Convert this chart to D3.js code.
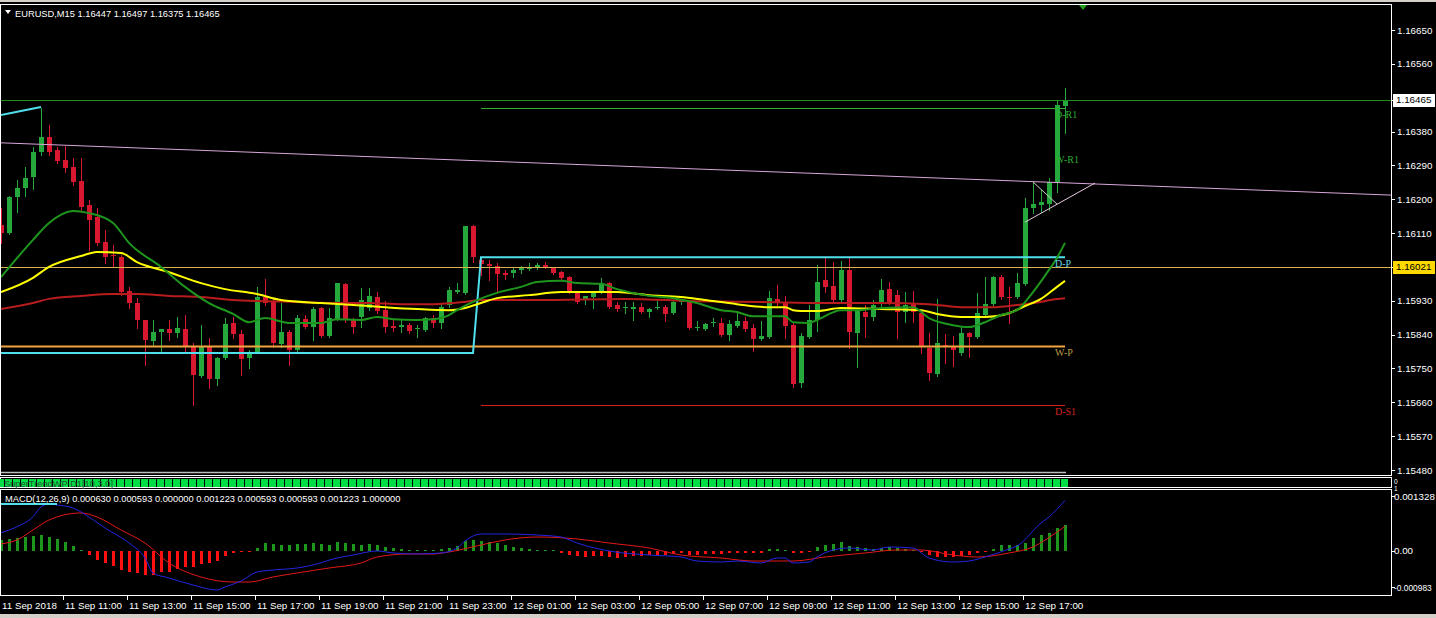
<!DOCTYPE html>
<html>
<head>
<meta charset="utf-8">
<title>EURUSD,M15</title>
<style>
  body, html { margin: 0; padding: 0; background: #000; overflow: hidden; }
  svg { display: block; }
  text { font-family: "Liberation Sans", Arial, sans-serif; font-size: 9.3px; fill: #fff; }
  .ax { font-size: 9.8px; }
  .lvl { font-family: "Liberation Serif", "DejaVu Serif", serif; font-size: 10px; }
</style>
</head>
<body>
<svg id="svg" width="1436" height="618"></svg>
<script src="https://d3js.org/d3.v7.min.js"></script>
<script>
// ---- candles, 11 Sep 09:00 .. 12 Sep 18:15 (M15) ----
const opens = [1.16131,1.16110,1.16206,1.16230,1.16259,1.16326,1.16366,1.16331,1.16304,1.16286,
  1.16249,1.16185,1.16153,1.16086,1.16052,1.16046,1.15956,1.15924,1.15879,1.15823,
  1.15847,1.15855,1.15844,1.15855,1.15807,1.15730,1.15807,1.15722,1.15778,1.15871,
  1.15842,1.15778,1.15794,1.15940,1.15929,1.15815,1.15847,1.15799,1.15881,1.15860,
  1.15911,1.15836,1.15881,1.15975,1.15879,1.15887,1.15911,1.15940,1.15905,1.15863,
  1.15860,1.15865,1.15855,1.15852,1.15884,1.15871,1.15919,1.15953,1.15951,1.16129,
  1.16038,1.16028,1.16022,1.16004,1.16004,1.16012,1.16014,1.16017,1.16025,1.16017,
  1.16006,1.15993,1.15951,1.15935,1.15940,1.15953,1.15977,1.15919,1.15911,1.15908,
  1.15913,1.15900,1.15911,1.15913,1.15897,1.15927,1.15927,1.15858,1.15855,1.15871,
  1.15871,1.15839,1.15863,1.15876,1.15858,1.15828,1.15834,1.15935,1.15927,1.15865,
  1.15711,1.15834,1.15879,1.15985,1.15969,1.15932,1.16012,1.15844,1.15900,1.15887,
  1.15924,1.15961,1.15945,1.15900,1.15921,1.15897,1.15804,1.15735,1.15812,1.15810,
  1.15791,1.15844,1.15834,1.15892,1.15921,1.15993,1.15940,1.15940,1.15975,1.16177,
  1.16185,1.16187,1.16246,1.16447];
const highs = [1.16177,1.16209,1.16251,1.16286,1.16339,1.16443,1.16397,1.16339,1.16342,1.16310,
  1.16310,1.16198,1.16177,1.16118,1.16078,1.16052,1.15967,1.15937,1.15879,1.15879,
  1.15855,1.15879,1.15887,1.15892,1.15818,1.15865,1.15831,1.15780,1.15884,1.15887,
  1.15852,1.15799,1.15967,1.15988,1.15937,1.15924,1.15852,1.15892,1.15892,1.15913,
  1.15913,1.15911,1.15977,1.15977,1.15884,1.15964,1.15964,1.15953,1.15929,1.15879,
  1.15879,1.15871,1.15865,1.15887,1.15892,1.15924,1.15967,1.15977,1.16129,1.16131,
  1.16044,1.16038,1.16030,1.16012,1.16020,1.16022,1.16030,1.16030,1.16033,1.16020,
  1.16009,1.15996,1.15953,1.15943,1.15953,1.15991,1.15980,1.15927,1.15927,1.15927,
  1.15924,1.15911,1.15929,1.15919,1.15929,1.15935,1.15932,1.15876,1.15871,1.15884,
  1.15884,1.15879,1.15903,1.15887,1.15868,1.15876,1.15956,1.15972,1.15943,1.15871,
  1.15844,1.15919,1.16025,1.16044,1.16033,1.16036,1.16046,1.15911,1.15919,1.15932,
  1.15988,1.15980,1.15959,1.15953,1.15956,1.15905,1.15844,1.15935,1.15842,1.15836,
  1.15860,1.15847,1.15951,1.15993,1.15996,1.15998,1.15967,1.16004,1.16203,1.16243,
  1.16225,1.16257,1.16464,1.16497];
const lows = [1.16084,1.16108,1.16166,1.16209,1.16227,1.16318,1.16318,1.16296,1.16272,1.16238,
  1.16171,1.16065,1.16078,1.16030,1.16020,1.15945,1.15911,1.15858,1.15759,1.15812,
  1.15791,1.15826,1.15834,1.15791,1.15653,1.15727,1.15698,1.15706,1.15775,1.15831,
  1.15732,1.15751,1.15791,1.15919,1.15807,1.15807,1.15759,1.15794,1.15858,1.15826,
  1.15834,1.15834,1.15879,1.15873,1.15844,1.15860,1.15905,1.15897,1.15847,1.15850,
  1.15847,1.15844,1.15834,1.15850,1.15860,1.15858,1.15913,1.15951,1.15948,1.16033,
  1.15998,1.15985,1.15953,1.15988,1.15993,1.16004,1.16012,1.16014,1.16017,1.16001,
  1.15988,1.15951,1.15924,1.15921,1.15911,1.15951,1.15911,1.15903,1.15897,1.15879,
  1.15897,1.15887,1.15908,1.15876,1.15895,1.15921,1.15855,1.15852,1.15852,1.15863,
  1.15836,1.15826,1.15860,1.15850,1.15796,1.15826,1.15831,1.15919,1.15831,1.15701,
  1.15701,1.15831,1.15850,1.15953,1.15929,1.15929,1.15804,1.15754,1.15834,1.15879,
  1.15913,1.15921,1.15831,1.15873,1.15873,1.15791,1.15719,1.15730,1.15764,1.15756,
  1.15786,1.15780,1.15831,1.15889,1.15919,1.15935,1.15871,1.15937,1.15972,1.16163,
  1.16166,1.16171,1.16219,1.16375];
const closes = [1.16110,1.16206,1.16230,1.16257,1.16326,1.16366,1.16326,1.16302,1.16283,1.16246,
  1.16179,1.16145,1.16084,1.16046,1.16049,1.15953,1.15924,1.15879,1.15826,1.15847,
  1.15855,1.15844,1.15858,1.15807,1.15732,1.15807,1.15722,1.15778,1.15868,1.15842,
  1.15775,1.15794,1.15940,1.15924,1.15818,1.15847,1.15799,1.15884,1.15860,1.15908,
  1.15836,1.15884,1.15977,1.15879,1.15860,1.15932,1.15943,1.15903,1.15860,1.15858,
  1.15865,1.15850,1.15858,1.15884,1.15871,1.15913,1.15959,1.15959,1.16129,1.16046,
  1.16028,1.16022,1.16001,1.15998,1.16012,1.16017,1.16017,1.16025,1.16020,1.16004,
  1.15991,1.15956,1.15927,1.15943,1.15951,1.15975,1.15913,1.15908,1.15913,1.15913,
  1.15900,1.15908,1.15913,1.15895,1.15927,1.15929,1.15858,1.15860,1.15868,1.15873,
  1.15839,1.15868,1.15876,1.15855,1.15828,1.15836,1.15937,1.15924,1.15863,1.15709,
  1.15836,1.15879,1.15980,1.15967,1.15932,1.16012,1.15847,1.15905,1.15887,1.15919,
  1.15959,1.15924,1.15900,1.15919,1.15900,1.15807,1.15738,1.15818,1.15810,1.15799,
  1.15844,1.15834,1.15897,1.15921,1.15993,1.15940,1.15937,1.15977,1.16177,1.16187,
  1.16193,1.16246,1.16451,1.16465];

// ---- moving averages: [bar, price] ----
const maGreen = [[0,1.15993],[4,1.16092],[6,1.16137],[9,1.16169],[11,1.16163],[14,1.16137],[16,1.16084],
  [20,1.16020],[23,1.15967],[26,1.15924],[29,1.15895],[31,1.15873],[33,1.15884],[36,1.15871],[40,1.15871],
  [42,1.15881],[45,1.15879],[47,1.15887],[49,1.15881],[52,1.15879],[54,1.15881],[56,1.15892],[57,1.15905],
  [59,1.15927],[62,1.15951],[65,1.15967],[67,1.15980],[70,1.15983],[72,1.15977],[75,1.15975],[77,1.15961],
  [81,1.15943],[84,1.15937],[87,1.15924],[90,1.15905],[92,1.15900],[94,1.15889],[98,1.15889],[99,1.15873],
  [101,1.15871],[102,1.15879],[105,1.15905],[107,1.15905],[110,1.15911],[114,1.15913],[116,1.15884],
  [119,1.15865],[121,1.15860],[123,1.15873],[125,1.15892],[127,1.15905],[129,1.15953],[131,1.16012],
  [132,1.16044],[133,1.16084]];
const maYellow = [[0,1.15953],[4,1.15991],[6,1.16020],[10,1.16049],[12,1.16060],[15,1.16057],[17,1.16033],
  [21,1.16006],[25,1.15977],[28,1.15961],[32,1.15948],[35,1.15932],[40,1.15924],[44,1.15919],[48,1.15913],
  [52,1.15908],[56,1.15905],[58,1.15911],[60,1.15924],[62,1.15937],[66,1.15945],[70,1.15953],[74,1.15953],
  [77,1.15953],[81,1.15945],[85,1.15940],[88,1.15932],[92,1.15921],[96,1.15913],[98,1.15913],[99,1.15905],
  [100,1.15903],[102,1.15903],[105,1.15911],[110,1.15908],[115,1.15905],[117,1.15895],[120,1.15887],
  [123,1.15887],[126,1.15897],[128,1.15916],[130,1.15935],[132,1.15967],[133,1.15983]];
const maRed = [[0,1.15908],[4,1.15924],[6,1.15935],[10,1.15943],[14,1.15948],[17,1.15948],[21,1.15943],
  [25,1.15940],[29,1.15932],[33,1.15929],[37,1.15927],[42,1.15924],[46,1.15924],[50,1.15921],[54,1.15921],
  [58,1.15927],[60,1.15932],[67,1.15932],[78,1.15935],[87,1.15929],[95,1.15927],[103,1.15924],[110,1.15924],
  [116,1.15921],[120,1.15913],[124,1.15913],[127,1.15919],[130,1.15927],[132,1.15935],[133,1.15937]];

// ---- pivot / objects ----
const pivotLine = [[0,1.15791],[59,1.15791],[60,1.16046],[133,1.16046]];
const cyanSegment = [[0,1.16424],[5,1.16445]];
const pivotLevels = [
  { name: 'D-R1', price: 1.16443, from: 60, line: true,  color: '#2fae2f' },
  { name: 'W-R1', price: 1.16323, from: 60, line: false, color: '#2fae2f' },
  { name: 'D-P',  price: 1.16046, from: 60, line: false, color: '#5fd8e6' },
  { name: 'W-P',  price: 1.15810, from: 0,  line: true,  color: '#b79a45' },
  { name: 'D-S1', price: 1.15653, from: 60, line: true,  color: '#d42020' }
];
const lineColors = { 'W-P': '#f0a640' };
const trendLines = [
  { p: [[0,1.16350],[173.75,1.16211]], color: '#d9a6d9' },
  { p: [[128,1.16139],[136.75,1.16243]], color: '#e8c8e0' },
  { p: [[129,1.16246],[132,1.16187]], color: '#d0d0d0' }
];
const bidPrice = 1.16465;
const markedPrice = 1.16021;
const lowerGuide = 1.15475;
const header = 'EURUSD,M15  1.16447 1.16497 1.16375 1.16465';

// ---- axes ----
const priceTicks = [1.16650,1.16560,1.16470,1.16380,1.16290,1.16200,1.16110,1.16020,1.15930,1.15840,1.15750,1.15660,1.15570,1.15480];
const timeLabels = ['11 Sep 2018','11 Sep 11:00','11 Sep 13:00','11 Sep 15:00','11 Sep 17:00','11 Sep 19:00','11 Sep 21:00',
  '11 Sep 23:00','12 Sep 01:00','12 Sep 03:00','12 Sep 05:00','12 Sep 07:00','12 Sep 09:00','12 Sep 11:00',
  '12 Sep 13:00','12 Sep 15:00','12 Sep 17:00'];
const timeLabelBars = [0,8,16,24,32,40,48,56,64,72,80,88,96,104,112,120,128];

// ---- SuperTrendWP D1 state per bar (1 = up) ----
const superTrend = [1,1,1,1,1,1,1,1,1,1,1,1,1,1,1,1,1,1,1,1,1,1,1,1,1,1,1,1,1,1,1,1,1,1,1,1,1,1,1,1,1,1,1,1,1,
  1,1,1,1,1,1,1,1,1,1,1,1,1,1,1,1,1,1,1,1,1,1,1,1,1,1,1,1,1,1,1,1,1,1,1,1,1,1,1,1,1,1,1,1,1,
  1,1,1,1,1,1,1,1,1,1,1,1,1,1,1,1,1,1,1,1,1,1,1,1,1,1,1,1,1,1,1,1,1,1,1,1,1,1,1,1,1,1,1,1];

// ---- MACD(12,26,9) ----
const macdHist = [0.000266,0.000283,0.000321,0.000345,0.000370,0.000386,0.000345,0.000290,0.000225,0.000121,
  0.000024,-0.000104,-0.000217,-0.000283,-0.000362,-0.000459,-0.000514,-0.000539,-0.000580,-0.000580,
  -0.000514,-0.000500,-0.000442,-0.000394,-0.000394,-0.000314,-0.000297,-0.000234,-0.000121,-0.000041,
  -0.000024,-0.000017,0.000065,0.000200,0.000169,0.000145,0.000138,0.000162,0.000169,0.000186,
  0.000162,0.000145,0.000210,0.000200,0.000169,0.000145,0.000169,0.000145,0.000104,0.000080,
  0.000041,0.000024,0.000024,0.000024,0.000031,0.000056,0.000080,0.000121,0.000249,0.000266,
  0.000242,0.000225,0.000186,0.000145,0.000089,0.000072,0.000041,0.000031,0.000024,0.000012,
  -0.000041,-0.000097,-0.000121,-0.000138,-0.000121,-0.000121,-0.000138,-0.000162,-0.000138,-0.000121,
  -0.000114,-0.000104,-0.000104,-0.000097,-0.000072,-0.000056,-0.000097,-0.000097,-0.000080,-0.000080,
  -0.000065,-0.000056,-0.000056,-0.000041,-0.000056,-0.000056,0.000041,0.000048,0.000031,-0.000056,
  -0.000056,-0.000024,0.000089,0.000138,0.000169,0.000217,0.000121,0.000089,0.000065,0.000041,
  0.000072,0.000089,0.000065,0.000041,0.000024,-0.000031,-0.000097,-0.000138,-0.000152,-0.000152,
  -0.000121,-0.000104,-0.000056,-0.000024,0.000041,0.000145,0.000145,0.000145,0.000186,0.000321,
  0.000386,0.000427,0.000548,0.000630];
const macdMain = [[0,0.000442],[2,0.000587],[4,0.000828],[5,0.001063],[6,0.001135],[7,0.001111],[9,0.001038],
  [11,0.000821],[13,0.000555],[16,0.000193],[18,-0.000169],[19,-0.000531],[21,-0.000652],[24,-0.000821],
  [27,-0.000942],[28,-0.000869],[30,-0.000725],[32,-0.000507],[34,-0.000459],[37,-0.000411],[39,-0.000338],
  [42,-0.000169],[44,-0.000097],[47,0],[49,-0.000048],[52,-0.000072],[55,-0.000048],[57,0.000072],
  [58,0.000242],[60,0.000411],[63,0.000411],[67,0.000386],[70,0.000338],[72,0.000193],[76,0],
  [81,-0.000097],[85,-0.000145],[87,-0.000242],[90,-0.000266],[92,-0.000242],[95,-0.000290],[97,-0.000169],
  [98,-0.000169],[99,-0.000290],[101,-0.000266],[102,-0.000145],[104,0.000024],[106,0.000072],[109,0.000024],
  [111,0.000097],[114,0.000072],[116,-0.000169],[119,-0.000266],[121,-0.000242],[123,-0.000145],
  [126,0.000048],[127,0.000121],[130,0.000676],[131,0.000821],[133,0.001223]];
const macdSignal = [[0,0.000170],[2,0.000266],[4,0.000507],[6,0.000749],[10,0.000918],[12,0.000821],
  [15,0.000507],[18,0.000193],[21,-0.000290],[25,-0.000628],[29,-0.000749],[31,-0.000749],[34,-0.000628],
  [37,-0.000531],[41,-0.000411],[45,-0.000290],[47,-0.000145],[51,-0.000072],[54,-0.000072],[56,-0.000024],
  [60,0.000145],[63,0.000266],[67,0.000338],[72,0.000290],[76,0.000193],[81,0.000072],[85,-0.000097],
  [90,-0.000169],[94,-0.000242],[99,-0.000242],[103,-0.000145],[108,-0.000048],[112,0.000024],[115,0.000024],
  [119,-0.000097],[122,-0.000145],[126,-0.000048],[129,0.000097],[132,0.000459],[133,0.000593]];
const macdTitle = 'MACD(12,26,9) 0.000630 0.000593 0.000000 0.001223 0.000593 0.000593 0.001223 1.000000';
const macdTicks = [0.001328, 0, -0.000983];

// ---- layout ----
const svg = d3.select('#svg');
const panelRight = 1391;
const x = d3.scaleLinear().domain([0, 133]).range([1, 1065]);
const y = d3.scaleLinear().domain([1.15480, 1.16650]).range([470, 30]);
const ym = d3.scaleLinear().domain([-0.000983, 0.001328]).range([591.7, 496]);

svg.append('rect').attr('width', 1436).attr('height', 618).attr('fill', '#000');
svg.append('rect').attr('x', 0).attr('y', 614).attr('width', 1436).attr('height', 4).attr('fill', '#d4d0c8');
svg.append('rect').attr('x', 0).attr('y', 0).attr('width', 1436).attr('height', 2).attr('fill', '#d4d0c8');

const defs = svg.append('defs');
defs.append('clipPath').attr('id', 'clipMain').append('rect')
  .attr('x', 1).attr('y', 5).attr('width', panelRight - 1).attr('height', 470);
defs.append('clipPath').attr('id', 'clipMacd').append('rect')
  .attr('x', 1).attr('y', 490).attr('width', panelRight - 1).attr('height', 105);

const main = svg.append('g').attr('clip-path', 'url(#clipMain)');
const px = i => Math.round(x(i));
const py = v => Math.round(y(v));

// candles
const candles = opens.map((o, i) => ({ i, o, h: highs[i], l: lows[i], c: closes[i] }));
const up = d => d.c >= d.o;
const gC = main.append('g');
gC.selectAll('line').data(candles).join('line')
  .attr('x1', d => px(d.i) + 0.5).attr('x2', d => px(d.i) + 0.5)
  .attr('y1', d => py(d.h)).attr('y2', d => py(d.l) + 1)
  .attr('stroke', d => up(d) ? '#25a83c' : '#d8182f').attr('stroke-width', 1);
gC.selectAll('rect').data(candles).join('rect')
  .attr('x', d => px(d.i) - 2).attr('width', 5)
  .attr('y', d => py(Math.max(d.o, d.c)))
  .attr('height', d => Math.max(1, py(Math.min(d.o, d.c)) - py(Math.max(d.o, d.c))))
  .attr('fill', d => up(d) ? '#25a83c' : '#d8182f');

// horizontal objects
const hline = (price, x0, x1, color, w) => main.append('line')
  .attr('x1', x0).attr('x2', x1).attr('y1', py(price) + 0.5).attr('y2', py(price) + 0.5)
  .attr('stroke', color).attr('stroke-width', w);

trendLines.forEach(t => {
  main.append('line')
    .attr('x1', x(t.p[0][0])).attr('y1', y(t.p[0][1]))
    .attr('x2', x(t.p[1][0])).attr('y2', y(t.p[1][1]))
    .attr('stroke', t.color).attr('stroke-width', 1);
});
hline(bidPrice, 0, panelRight, '#1f8f1f', 1);
hline(markedPrice, 0, panelRight, '#d8b44c', 1);
hline(lowerGuide, 0, x(133) + 1, '#bdbdbd', 1.5);
pivotLevels.filter(l => l.line).forEach(l => {
  hline(l.price, x(l.from), x(133), lineColors[l.name] || l.color, l.name === 'W-P' ? 2 : 1);
});

// pivot line (cyan)
const lineGen = sc => d3.line().x(d => x(d[0])).y(d => sc(d[1]));
main.append('path').attr('d', lineGen(y)(pivotLine))
  .attr('fill', 'none').attr('stroke', '#4fe0ee').attr('stroke-width', 2);
main.append('path').attr('d', lineGen(y)(cyanSegment))
  .attr('fill', 'none').attr('stroke', '#4fe0ee').attr('stroke-width', 2);

// moving averages
const maGen = d3.line().x(d => x(d[0])).y(d => y(d[1])).curve(d3.curveMonotoneX);
[[maRed, '#b81c1c'], [maYellow, '#ffff00'], [maGreen, '#1e961e']].forEach(([data, color]) => {
  main.append('path').attr('d', maGen(data))
    .attr('fill', 'none').attr('stroke', color).attr('stroke-width', 2);
});

// pivot labels
main.selectAll('text.lvl').data(pivotLevels).join('text')
  .attr('class', 'lvl')
  .attr('x', x(133) - 10).attr('y', d => y(d.price) + 10)
  .style('fill', d => d.color)
  .text(d => d.name);

// shift marker
svg.append('path')
  .attr('d', d3.line()([[x(135.25) - 4, 5], [x(135.25) + 4, 5], [x(135.25), 10]]))
  .attr('fill', '#1ea01e');

// header
svg.append('path').attr('d', d3.line()([[5, 10], [11, 10], [8, 14]])).attr('fill', '#fff');
svg.append('text').attr('x', 15).attr('y', 16.5).text(header);

// panel borders
const border = (y0, y1) => svg.append('rect')
  .attr('x', 0.5).attr('y', y0 + 0.5).attr('width', panelRight).attr('height', y1 - y0)
  .attr('fill', 'none').attr('stroke', '#fff').attr('stroke-width', 1);
border(4, 475);
border(477, 487);
border(489, 595);

// price axis
const priceAxis = svg.append('g');
const boxes = [{ v: bidPrice, fill: '#fff' }, { v: markedPrice, fill: '#ffd800' }];
priceTicks.filter(v => boxes.every(b => Math.abs(y(v) - y(b.v)) > 8)).forEach(v => {
  priceAxis.append('line').attr('x1', panelRight).attr('x2', panelRight + 4)
    .attr('y1', py(v) + 0.5).attr('y2', py(v) + 0.5).attr('stroke', '#fff');
  priceAxis.append('text').attr('class', 'ax').attr('x', 1397).attr('y', y(v) + 3.5).text(v.toFixed(5));
});
boxes.forEach(b => {
  priceAxis.append('line').attr('x1', panelRight).attr('x2', panelRight + 4)
    .attr('y1', py(b.v) + 0.5).attr('y2', py(b.v) + 0.5).attr('stroke', '#fff');
  priceAxis.append('rect').attr('x', 1393).attr('y', py(b.v) - 6).attr('width', 42).attr('height', 13)
    .attr('fill', b.fill);
  priceAxis.append('text').attr('class', 'ax').attr('x', 1396).attr('y', y(b.v) + 3.5)
    .style('fill', '#000').text(b.v.toFixed(5));
});

// SuperTrendWP panel
const st = svg.append('g');
st.selectAll('rect').data(superTrend.map((s, i) => ({ s, i }))).join('rect')
  .attr('x', d => px(d.i) - 4).attr('width', 7).attr('y', 479).attr('height', 8)
  .attr('fill', d => d.s > 0 ? '#00dc46' : '#dc0000');
st.append('text').attr('x', 4).attr('y', 487).style('fill', '#2b4f33').text('SuperTrendWP D1[10,3.0]');
st.append('text').attr('x', 1394).attr('y', 483.5).style('font-size', '6.5px').text('0');
st.append('text').attr('x', 1394).attr('y', 490.5).style('font-size', '6.5px').text('1');

// MACD panel
const mg = svg.append('g').attr('clip-path', 'url(#clipMacd)');
mg.selectAll('rect').data(macdHist.map((v, i) => ({ v, i }))).join('rect')
  .attr('x', d => px(d.i) - 1).attr('width', 3)
  .attr('y', d => Math.round(Math.min(ym(0), ym(d.v))))
  .attr('height', d => Math.max(1, Math.round(Math.abs(ym(d.v) - ym(0)))))
  .attr('fill', d => d.v >= 0 ? '#1e961e' : '#ff1010');
const mGen = d3.line().x(d => x(d[0])).y(d => ym(d[1])).curve(d3.curveMonotoneX);
mg.append('path').attr('d', mGen(macdSignal)).attr('fill', 'none').attr('stroke', '#e01818').attr('stroke-width', 1);
mg.append('path').attr('d', mGen(macdMain)).attr('fill', 'none').attr('stroke', '#2424e0').attr('stroke-width', 1);
mg.append('line').attr('x1', 0).attr('x2', x(7)).attr('y1', 504).attr('y2', 504)
  .attr('stroke', '#4fe0ee').attr('stroke-width', 2);
svg.append('text').attr('x', 5).attr('y', 501.5).text(macdTitle);

macdTicks.forEach(v => {
  const yy = Math.min(ym(v), 587);
  svg.append('line').attr('x1', panelRight).attr('x2', panelRight + 4)
    .attr('y1', Math.round(yy) + 0.5).attr('y2', Math.round(yy) + 0.5).attr('stroke', '#fff');
  svg.append('text').attr('class', 'ax').attr('x', 1394).attr('y', yy + 3.5)
    .style('font-size', v < 0 ? '8.4px' : null)
    .text(v === 0 ? '0.00' : v.toFixed(6));
});

// time axis
const ta = svg.append('g');
timeLabelBars.forEach((b, k) => {
  ta.append('line').attr('x1', px(b) - 1.5).attr('x2', px(b) - 1.5).attr('y1', 595).attr('y2', 600)
    .attr('stroke', '#fff');
  ta.append('text').attr('class', 'ax').attr('x', Math.max(2, px(b))).attr('y', 609).text(timeLabels[k]);
});
</script>
</body>
</html>
